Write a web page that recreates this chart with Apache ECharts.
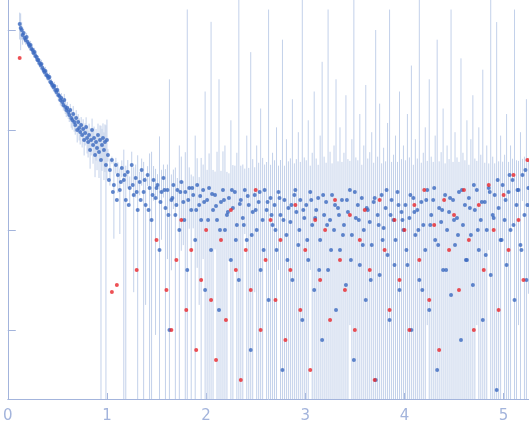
<!DOCTYPE html>
<html>
<head>
<meta charset="utf-8">
<script src="https://cdn.jsdelivr.net/npm/echarts@6/dist/echarts.min.js"></script>
<style>html,body{margin:0;padding:0;background:#fff}#chart{width:529px;height:437px}</style>
</head>
<body>
<div id="chart"></div>
<script>
// low q: [q, log10(I), sigma/I]
const lowQ = [[0.12,0.06,0.3],[0.13,0.02,0.4],[0.14,0.0,0.2],[0.15,-0.05,0.2],[0.16,-0.03,0.1],[0.17,-0.08,0.1],[0.18,-0.1,0.1],[0.19,-0.07,0.1],[0.2,-0.12,0.1],[0.21,-0.14,0.1],[0.22,-0.16,0.1],[0.23,-0.15,0.1],[0.24,-0.19,0.1],[0.25,-0.2,0.1],[0.26,-0.23,0.1],[0.27,-0.22,0.1],[0.28,-0.26,0.1],[0.29,-0.27,0.1],[0.3,-0.3,0.1],[0.31,-0.3,0.1],[0.32,-0.33,0.1],[0.33,-0.35,0.1],[0.34,-0.34,0.1],[0.35,-0.38,0.1],[0.36,-0.4,0.1],[0.37,-0.42,0.1],[0.38,-0.41,0.1],[0.39,-0.45,0.1],[0.4,-0.46,0.1],[0.41,-0.48,0.1],[0.42,-0.47,0.1],[0.43,-0.52,0.1],[0.44,-0.53,0.1],[0.45,-0.55,0.1],[0.46,-0.57,0.1],[0.47,-0.56,0.1],[0.48,-0.6,0.1],[0.49,-0.62,0.1],[0.5,-0.6,0.12],[0.51,-0.65,0.12],[0.52,-0.66,0.12],[0.53,-0.7,0.12],[0.54,-0.68,0.12],[0.55,-0.72,0.12],[0.56,-0.75,0.12],[0.57,-0.7,0.15],[0.58,-0.77,0.15],[0.59,-0.8,0.15],[0.6,-0.78,0.15],[0.61,-0.82,0.15],[0.62,-0.85,0.15],[0.63,-0.8,0.15],[0.64,-0.88,0.2],[0.65,-0.9,0.2],[0.66,-0.84,0.2],[0.67,-0.92,0.2],[0.68,-0.95,0.2],[0.69,-0.88,0.2],[0.7,-1.0,0.25],[0.71,-0.92,0.2],[0.72,-0.98,0.25],[0.73,-1.02,0.25],[0.74,-0.95,0.2],[0.75,-1.05,0.25],[0.76,-0.99,0.25],[0.77,-1.1,0.3],[0.78,-1.03,0.25],[0.79,-0.97,0.25],[0.8,-1.08,0.3],[0.81,-1.12,0.3],[0.82,-1.05,0.3],[0.83,-1.2,0.35],[0.84,-1.1,0.3],[0.85,-1.0,0.3],[0.86,-1.15,0.35],[0.87,-1.08,0.3],[0.88,-1.25,0.4],[0.89,-1.12,0.35],[0.9,-1.18,0.4],[0.91,-1.05,0.3],[0.92,-1.22,0.45],[0.93,-1.1,0.4],[0.94,-1.3,1.2],[0.95,-1.15,0.45],[0.96,-1.08,0.4],[0.97,-1.2,0.5],[0.98,-1.12,0.5],[0.99,-1.35,1.5],[1.0,-1.1,0.6]];
// high q: [q, log10(I), sigma in units of SIGMA_UNIT]
const highQ = [[1.01,-1.25,2],[1.03,-1.4,3],[1.05,-1.3,1],[1.07,-1.55,5],[1.09,-1.35,2],[1.11,-1.45,3],[1.13,-1.6,4],[1.15,-1.38,2],[1.17,-1.5,8],[1.19,-1.7,6],[1.21,-1.42,3],[1.23,-1.58,2],[1.25,-1.35,4],[1.27,-1.65,5],[1.29,-1.48,3],[1.31,-1.8,10],[1.33,-1.52,2],[1.35,-1.4,3],[1.37,-1.62,6],[1.39,-1.75,4],[1.41,-1.45,2],[1.43,-1.58,8],[1.45,-1.9,12],[1.47,-1.5,3],[1.49,-1.68,5],[1.51,-1.55,2],[1.53,-2.2,20],[1.55,-1.62,4],[1.57,-1.48,3],[1.59,-1.78,6],[1.61,-1.6,5],[1.63,-3.0,80],[1.65,-1.7,4],[1.67,-1.55,3],[1.69,-1.85,7],[1.71,-1.6,2],[1.73,-2.0,15],[1.75,-1.52,6],[1.77,-1.72,3],[1.79,-1.62,9],[1.81,-2.4,400],[1.83,-1.58,4],[1.85,-1.8,5],[1.87,-1.65,3],[1.89,-2.1,20],[1.91,-1.55,6],[1.93,-1.75,4],[1.95,-1.9,10],[1.97,-1.6,5],[1.99,-2.6,60],
[2.01,-1.7,5],[2.03,-1.58,8],[2.05,-2.2,300],[2.07,-1.8,6],[2.09,-1.65,4],[2.11,-1.9,12],[2.13,-2.8,80],[2.15,-1.72,5],[2.17,-1.6,9],[2.19,-2.0,15],[2.21,-1.85,6],[2.23,-1.68,4],[2.25,-2.3,30],[2.27,-1.78,7],[2.29,-1.62,5],[2.31,-1.95,12],[2.33,-2.5,500],[2.35,-1.7,6],[2.37,-1.88,8],[2.39,-1.6,4],[2.41,-2.1,20],[2.43,-1.75,6],[2.45,-3.2,150],[2.47,-1.82,9],[2.49,-1.65,5],[2.51,-2.0,15],[2.53,-1.72,7],[2.55,-2.4,40],[2.57,-1.9,10],[2.59,-1.6,5],[2.61,-1.8,8],[2.63,-2.7,400],[2.65,-1.68,6],[2.67,-1.95,12],[2.69,-1.75,8],[2.71,-2.2,25],[2.73,-1.62,5],[2.75,-1.85,9],[2.77,-3.4,200],[2.79,-1.7,6],[2.81,-2.05,18],[2.83,-1.78,8],[2.85,-1.92,10],[2.87,-2.5,50],[2.89,-1.65,6],[2.91,-1.82,9],[2.93,-2.15,22],[2.95,-1.7,7],[2.97,-2.9,500],[2.99,-1.88,10],
[3.01,-1.75,8],[3.03,-2.3,30],[3.05,-1.62,5],[3.07,-1.95,12],[3.09,-2.6,60],[3.11,-1.8,9],[3.13,-1.68,6],[3.15,-2.1,20],[3.17,-3.1,120],[3.19,-1.85,10],[3.21,-1.72,7],[3.23,-2.4,400],[3.25,-1.9,12],[3.27,-1.65,6],[3.29,-2.0,15],[3.31,-2.8,80],[3.33,-1.78,8],[3.35,-2.2,25],[3.37,-1.7,7],[3.39,-1.95,12],[3.41,-2.55,55],[3.43,-1.82,9],[3.45,-1.6,6],[3.47,-2.05,18],[3.49,-3.3,500],[3.51,-1.88,10],[3.53,-1.75,8],[3.55,-2.35,35],[3.57,-1.68,6],[3.59,-2.0,15],[3.61,-2.7,70],[3.63,-1.8,9],[3.65,-1.92,12],[3.67,-2.15,22],[3.69,-1.72,7],[3.71,-3.5,250],[3.73,-1.85,10],[3.75,-2.45,45],[3.77,-1.65,6],[3.79,-1.98,14],[3.81,-1.78,8],[3.83,-2.25,28],[3.85,-2.9,400],[3.87,-1.7,7],[3.89,-1.9,11],[3.91,-2.1,20],[3.93,-1.62,6],[3.95,-2.6,60],[3.97,-1.82,9],[3.99,-2.0,15],
[4.01,-1.75,8],[4.03,-2.35,35],[4.05,-1.88,10],[4.07,-3.0,110],[4.09,-1.68,6],[4.11,-2.05,18],[4.13,-1.8,9],[4.15,-2.5,500],[4.17,-1.72,7],[4.19,-1.95,12],[4.21,-2.2,25],[4.23,-1.6,6],[4.25,-2.8,80],[4.27,-1.85,10],[4.29,-1.7,7],[4.31,-2.1,20],[4.33,-3.4,200],[4.35,-1.78,8],[4.37,-1.92,12],[4.39,-2.4,40],[4.41,-1.65,6],[4.43,-2.0,15],[4.45,-1.82,9],[4.47,-2.65,400],[4.49,-1.7,7],[4.51,-2.15,22],[4.53,-1.88,10],[4.55,-1.62,6],[4.57,-3.1,130],[4.59,-1.95,12],[4.61,-1.75,8],[4.63,-2.3,30],[4.65,-1.68,6],[4.67,-2.05,18],[4.69,-2.55,55],[4.71,-1.8,9],[4.73,-1.6,6],[4.75,-2.2,25],[4.77,-1.9,11],[4.79,-2.9,100],[4.81,-1.72,7],[4.83,-2.0,15],[4.85,-1.58,5],[4.87,-2.45,500],[4.89,-1.85,10],[4.91,-1.65,6],[4.93,-3.6,300],[4.95,-1.78,8],[4.97,-2.1,20],[4.99,-1.55,5],
[5.01,-1.9,11],[5.03,-2.35,35],[5.05,-1.62,6],[5.07,-2.0,15],[5.09,-1.5,5],[5.11,-2.7,400],[5.13,-1.75,8],[5.15,-1.6,6],[5.17,-2.15,22],[5.19,-1.45,4],[5.21,-1.85,10],[5.23,-2.5,50],[5.25,-1.58,6]];
const SIGMA_UNIT = 0.004;
// extra points in the dense band, [q, log10(I)]
const bandQ = [[1.02,-1.5],[1.06,-1.62],[1.1,-1.7],[1.14,-1.52],[1.18,-1.45],[1.22,-1.75],[1.26,-1.55],[1.3,-1.62],[1.34,-1.7],[1.38,-1.5],[1.42,-1.8],[1.46,-1.65],[1.5,-1.58],[1.54,-1.72],[1.58,-1.6],[1.62,-1.85],[1.66,-1.68],[1.7,-1.75],[1.74,-1.62],[1.78,-1.9],[1.82,-1.7],[1.86,-1.58],[1.9,-1.8],[1.94,-1.66],[1.98,-1.72],[2.02,-1.9],[2.06,-1.64],[2.1,-1.76],[2.14,-2.0],[2.18,-1.7],[2.22,-1.82],[2.26,-1.6],[2.3,-2.1],[2.34,-1.74],[2.38,-1.95],[2.42,-1.66],[2.46,-2.05],[2.5,-1.8],[2.54,-1.62],[2.58,-2.2],[2.62,-1.72],[2.66,-1.85],[2.7,-2.0],[2.74,-1.68],[2.78,-1.9],[2.82,-2.3],[2.86,-1.75],[2.9,-1.6],[2.94,-2.0],[2.98,-1.8],[3.02,-2.1],[3.06,-1.7],[3.1,-1.88],[3.14,-2.4],[3.18,-1.65],[3.22,-1.95],[3.26,-2.2],[3.3,-1.75],[3.34,-1.85],[3.38,-2.05],[3.42,-1.7],[3.46,-2.3],[3.5,-1.62],[3.54,-1.9],[3.58,-2.15],[3.62,-1.78],[3.66,-2.5],[3.7,-1.68],[3.74,-1.95],[3.78,-2.1],[3.82,-1.6],[3.86,-1.85],[3.9,-2.35],[3.94,-1.75],[3.98,-1.9],[4.02,-2.2],[4.06,-1.65],[4.1,-1.82],[4.14,-2.0],[4.18,-2.6],[4.22,-1.7],[4.26,-1.95],[4.3,-1.58],[4.34,-2.15],[4.38,-1.8],[4.42,-2.4],[4.46,-1.68],[4.5,-1.9],[4.54,-2.05],[4.58,-1.6],[4.62,-2.3],[4.66,-1.78],[4.7,-1.55],[4.74,-2.0],[4.78,-1.72],[4.82,-2.25],[4.86,-1.62],[4.9,-1.88],[4.94,-1.5],[4.98,-2.1],[5.02,-1.7],[5.06,-1.45],[5.1,-1.95],[5.14,-1.6],[5.18,-2.2],[5.22,-1.4],[5.24,-1.75]];
// outliers (red), [q, log10(I)]
const outliers = [[0.12,-0.28],[1.05,-2.62],[1.1,-2.55],[1.3,-2.4],[1.5,-2.1],[1.6,-2.6],[1.65,-3.0],[1.7,-2.3],[1.75,-1.9],[1.8,-2.8],[1.85,-2.2],[1.9,-3.2],[1.95,-2.5],[2.0,-2.0],[2.05,-2.7],[2.1,-3.3],[2.15,-2.1],[2.2,-2.9],[2.25,-1.8],[2.3,-2.4],[2.35,-3.5],[2.4,-2.2],[2.45,-2.6],[2.5,-1.6],[2.55,-3.0],[2.6,-2.3],[2.65,-1.9],[2.7,-2.7],[2.75,-2.1],[2.8,-3.1],[2.85,-2.4],[2.9,-1.75],[2.95,-2.8],[3.0,-2.2],[3.05,-3.4],[3.1,-1.9],[3.15,-2.5],[3.2,-2.0],[3.25,-2.9],[3.3,-1.7],[3.35,-2.3],[3.4,-2.6],[3.45,-1.85],[3.5,-3.0],[3.55,-2.1],[3.6,-1.8],[3.65,-2.4],[3.7,-3.5],[3.75,-1.7],[3.8,-2.2],[3.85,-2.8],[3.9,-1.9],[3.95,-2.5],[4.0,-2.0],[4.05,-3.0],[4.1,-1.75],[4.15,-2.3],[4.2,-1.6],[4.25,-2.7],[4.3,-1.95],[4.35,-3.2],[4.4,-1.7],[4.45,-2.2],[4.5,-1.85],[4.55,-2.6],[4.6,-1.6],[4.65,-2.1],[4.7,-3.0],[4.75,-1.75],[4.8,-2.4],[4.85,-1.55],[4.9,-2.0],[4.95,-2.8],[5.0,-1.65],[5.05,-2.2],[5.1,-1.45],[5.15,-1.9],[5.2,-2.5],[5.24,-1.3]];
const yTicks = [-3, -2, -1, 0];

const yMin = -3.69, yMax = 0.3;
const bottom = yMin - 1;
function errRange(q, logI, sigma) {
  const I = Math.pow(10, logI);
  const hi = Math.log10(I + sigma);
  const lo = I - sigma > 0 ? Math.log10(I - sigma) : bottom;
  return [q, Math.max(lo, bottom), Math.min(hi, yMax + 1)];
}
const errData = lowQ.map(d => errRange(d[0], d[1], d[2] * Math.pow(10, d[1])))
  .concat(highQ.map(d => errRange(d[0], d[1], d[2] * SIGMA_UNIT)));
const bluePts = lowQ.concat(highQ).map(d => [d[0], d[1]]).concat(bandQ);

const chart = echarts.init(document.getElementById('chart'));
const axisColor = '#a3b4dc';
chart.setOption({
  animation: false,
  grid: { left: 5, right: 0, top: 0, bottom: 38 },
  xAxis: {
    type: 'value', min: 0, max: 5.256, interval: 1,
    axisLine: { onZero: false, lineStyle: { color: axisColor } },
    axisTick: { inside: true, length: 6, lineStyle: { color: axisColor } },
    axisLabel: { color: axisColor, fontSize: 15, margin: 10, fontFamily: 'DejaVu Sans', showMaxLabel: false },
    splitLine: { show: false }
  },
  yAxis: {
    type: 'value', min: yMin, max: yMax,
    axisLine: { show: true, onZero: false, lineStyle: { color: axisColor } },
    axisTick: { show: true, inside: true, length: 8, customValues: yTicks, lineStyle: { color: axisColor } },
    axisLabel: { show: false },
    splitLine: { show: false }
  },
  series: [
    {
      type: 'custom', clip: true, data: errData, silent: true,
      renderItem: (params, api) => {
        const p1 = api.coord([api.value(0), api.value(1)]);
        const p2 = api.coord([api.value(0), api.value(2)]);
        return { type: 'line', shape: { x1: p1[0], y1: p1[1], x2: p2[0], y2: p2[1] },
                 style: { stroke: '#c3d1ea', lineWidth: 1 } };
      }
    },
    { type: 'scatter', data: bluePts, symbolSize: 4, itemStyle: { color: '#3b69bf' } },
    { type: 'scatter', data: outliers, symbolSize: 4, itemStyle: { color: '#e8252a' } }
  ]
});
</script>
</body>
</html>
